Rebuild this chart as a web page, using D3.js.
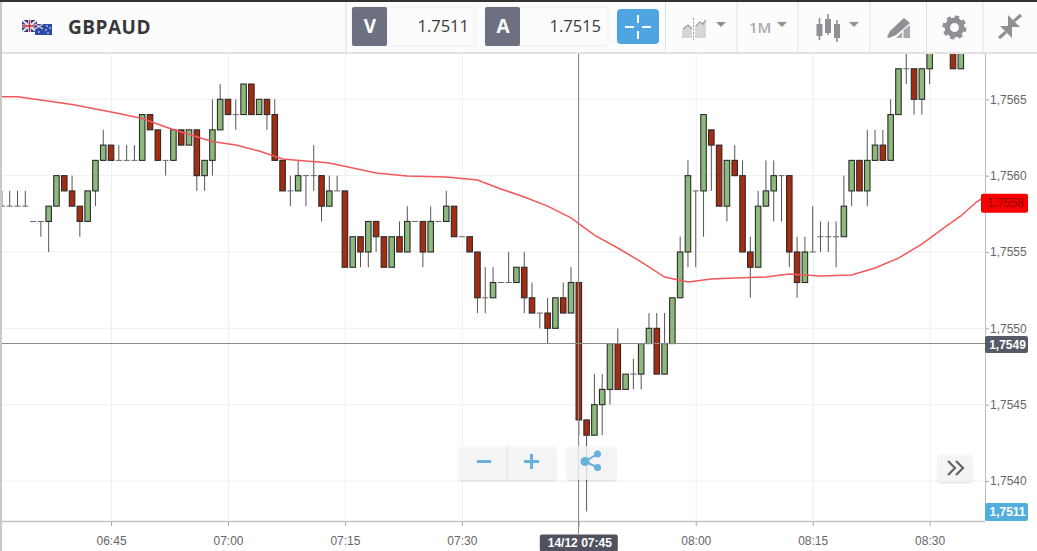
<!DOCTYPE html>
<html>
<head>
<meta charset="utf-8">
<script src="https://cdn.jsdelivr.net/npm/d3@7"></script>
<style>
html, body { margin: 0; padding: 0; background: #fff; overflow: hidden; }
svg { display: block; }
text { font-family: "Liberation Sans", Arial, sans-serif; }
.head { font-family: "Open Sans", sans-serif; }
.axis text { font-size: 12px; fill: #666; }
</style>
</head>
<body>
<svg id="chart" width="1037" height="551"></svg>
<script>
// candles, one per minute, the first one at 06:31
var startMinute = 6 * 60 + 31
var opens = [1.7558,1.7558,1.7558,1.7558,1.7557,1.7557,1.7557,1.7558,1.7560,1.7559,1.7558,1.7557,1.7559,1.7561,1.7562,1.7561,1.7561,1.7561,1.7561,1.7564,1.7563,1.7561,1.7561,1.7563,1.7562,1.7563,1.7560,1.7561,1.7563,
    1.7565,1.7564,1.7564,1.7566,1.7564,1.7565,1.7564,1.7561,1.7559,1.7559,1.7560,1.7560,1.7560,1.7558,1.7559,1.7559,1.7554,1.7556,1.7555,1.7557,1.7556,1.7554,1.7556,1.7555,1.7557,1.7557,1.7555,1.7557,1.7557,1.7558,1.7556,
    1.7556,1.7555,1.7552,1.7552,1.7553,1.7553,1.7553,1.7554,1.7552,1.7551,1.7551,1.7550,1.7552,1.7551,1.7553,1.7544,1.7543,1.7545,1.7546,1.7549,1.7546,1.7547,1.7547,1.7549,1.7550,1.7547,1.7549,1.7552,1.7555,
    1.7559,1.7559,1.7563,1.7562,1.7558,1.7561,1.7560,1.7555,1.7554,1.7558,1.7559,1.7560,1.7560,1.7555,1.7553,1.7555,1.7556,1.7556,1.7556,1.7556,1.7559,1.7561,1.7559,1.7561,1.7562,1.7561,1.7564,1.7567,1.7567,1.7565,1.7567,1.7570,1.7571,1.7569,1.7567]
var highs = [1.7559,1.7559,1.7559,1.7559,1.7557,1.7557,1.7558,1.7560,1.7560,1.7560,1.7558,1.7559,1.7561,1.7563,1.7562,1.7562,1.7562,1.7562,1.7564,1.7564,1.7563,1.7561,1.7563,1.7563,1.7563,1.7563,1.7561,1.7565,1.7566,
    1.7565,1.7565,1.7566,1.7566,1.7565,1.7565,1.7565,1.7561,1.7560,1.7561,1.7560,1.7562,1.7560,1.7560,1.7560,1.7559,1.7556,1.7556,1.7557,1.7557,1.7556,1.7556,1.7557,1.7558,1.7557,1.7557,1.7558,1.7557,1.7559,1.7558,1.7556,
    1.7556,1.7555,1.7554,1.7554,1.7553,1.7555,1.7554,1.7555,1.7553,1.7551,1.7552,1.7552,1.7553,1.7554,1.7553,1.7544,1.7547,1.7547,1.7549,1.7550,1.7547,1.7548,1.7549,1.7551,1.7551,1.7551,1.7552,1.7556,1.7561,
    1.7559,1.7564,1.7563,1.7562,1.7561,1.7562,1.7561,1.7556,1.7559,1.7561,1.7561,1.7560,1.7560,1.7556,1.7556,1.7558,1.7557,1.7557,1.7557,1.7560,1.7561,1.7561,1.7563,1.7563,1.7563,1.7565,1.7567,1.7569,1.7567,1.7567,1.7569,1.7571,1.7572,1.7570,1.7569]
var lows = [1.7558,1.7558,1.7558,1.7558,1.7557,1.7556,1.7555,1.7558,1.7559,1.7558,1.7556,1.7557,1.7558,1.7561,1.7561,1.7561,1.7561,1.7561,1.7561,1.7563,1.7561,1.7560,1.7561,1.7562,1.7562,1.7559,1.7559,1.7560,1.7563,
    1.7564,1.7563,1.7564,1.7564,1.7564,1.7563,1.7561,1.7559,1.7558,1.7559,1.7558,1.7559,1.7557,1.7558,1.7559,1.7554,1.7554,1.7554,1.7554,1.7555,1.7554,1.7554,1.7555,1.7555,1.7557,1.7554,1.7555,1.7557,1.7557,1.7556,1.7556,
    1.7555,1.7551,1.7551,1.7552,1.7553,1.7553,1.7553,1.7551,1.7551,1.7550,1.7549,1.7550,1.7551,1.7551,1.7543,1.7538,1.7543,1.7543,1.7545,1.7546,1.7546,1.7546,1.7546,1.7549,1.7547,1.7547,1.7549,1.7552,1.7554,
    1.7554,1.7556,1.7559,1.7558,1.7557,1.7560,1.7555,1.7552,1.7554,1.7558,1.7557,1.7557,1.7554,1.7552,1.7553,1.7555,1.7555,1.7555,1.7554,1.7556,1.7558,1.7559,1.7558,1.7561,1.7561,1.7561,1.7564,1.7566,1.7564,1.7564,1.7566,1.7569,1.7570,1.7567,1.7567]
var closes = [1.7558,1.7558,1.7558,1.7558,1.7557,1.7557,1.7558,1.7560,1.7559,1.7558,1.7557,1.7559,1.7561,1.7562,1.7561,1.7561,1.7561,1.7561,1.7564,1.7563,1.7561,1.7561,1.7563,1.7562,1.7563,1.7560,1.7561,1.7563,1.7565,
    1.7564,1.7564,1.7566,1.7564,1.7565,1.7564,1.7561,1.7559,1.7559,1.7560,1.7560,1.7560,1.7558,1.7559,1.7559,1.7554,1.7556,1.7555,1.7557,1.7556,1.7554,1.7556,1.7555,1.7557,1.7557,1.7555,1.7557,1.7557,1.7558,1.7556,1.7556,
    1.7555,1.7552,1.7552,1.7553,1.7553,1.7553,1.7554,1.7552,1.7551,1.7551,1.7550,1.7552,1.7551,1.7553,1.7544,1.7543,1.7545,1.7546,1.7549,1.7546,1.7547,1.7547,1.7549,1.7550,1.7547,1.7549,1.7552,1.7555,1.7560,
    1.7559,1.7564,1.7562,1.7558,1.7561,1.7560,1.7555,1.7554,1.7558,1.7559,1.7560,1.7560,1.7555,1.7553,1.7555,1.7555,1.7556,1.7556,1.7556,1.7558,1.7561,1.7559,1.7561,1.7562,1.7561,1.7564,1.7567,1.7567,1.7565,1.7567,1.7569,1.7571,1.7571,1.7567,1.7569]

// red average line
var lineTimes = ['06:30','06:33','06:36','06:40','06:43','06:46','06:49','06:52','06:55','06:58','07:01','07:04','07:07','07:10','07:13','07:16','07:19','07:23','07:28','07:32','07:35','07:38','07:41','07:44','07:47','07:50','07:53','07:56','07:59','08:02','08:05','08:09','08:12','08:16','08:20','08:23','08:26','08:29','08:32','08:34','08:36','08:38']
var lineValues = [1.756517,1.756517,1.756495,1.756466,1.756436,1.756407,1.756374,1.756319,1.756269,1.756224,1.756200,1.756161,1.756109,1.756096,1.756083,1.756050,1.756017,1.755998,1.755991,1.755971,1.755913,1.755860,1.755800,1.755723,1.755611,1.755526,1.755435,1.755336,1.755304,1.755323,1.755330,1.755336,1.755356,1.755343,1.755350,1.755395,1.755460,1.755552,1.755664,1.755736,1.755827,1.755893]

var priceTicks = [1.7540, 1.7545, 1.7550, 1.7555, 1.7560, 1.7565]
var askLabel = '1.7515', bidLabel = '1.7511'
var lastLine = 1.7558, cursorPrice = 1.754901, bottomTag = '1,7511', cursorTime = '07:45', cursorDate = '14/12'

var day = new Date(2017, 11, 14)
function minuteDate(m) { return d3.timeMinute.offset(day, m) }
function parseTime(s) { return minuteDate(+s.slice(0, 2) * 60 + +s.slice(3)) }
function commaPrice(p) { return d3.format('.4f')(p).replace('.', ',') }

var candles = opens.map(function(o, i) {
    return { t: minuteDate(startMinute + i), o: o, h: highs[i], l: lows[i], c: closes[i] }
})

var plotLeft = 2, plotRight = 985, plotTop = 54, plotBottom = 521
var x = d3.scaleTime().domain([parseTime('06:30'), parseTime('08:38')]).range([-5.9, 992])
var y = d3.scaleLinear().domain([1.7540, 1.7565]).range([481, 99.3])

var svg = d3.select('#chart')
svg.append('rect').attr('width', 1037).attr('height', 551).attr('fill', '#fff')

svg.append('clipPath').attr('id', 'plot').append('rect')
    .attr('x', plotLeft).attr('y', plotTop).attr('width', plotRight - plotLeft).attr('height', plotBottom - plotTop)

// grid
var timeTicks = x.ticks(d3.timeMinute.every(15)).filter(function(d) { return x(d) > plotLeft && x(d) < plotRight })
var grid = svg.append('g')
grid.selectAll('line.v').data(timeTicks).enter().append('line')
    .attr('class', 'v')
    .attr('x1', function(d) { return x(d) + .5 })
    .attr('x2', function(d) { return x(d) + .5 })
    .attr('y1', plotTop).attr('y2', plotBottom).attr('stroke', '#efefef')
grid.selectAll('line.h').data(priceTicks).enter().append('line')
    .attr('class', 'h')
    .attr('x1', plotLeft).attr('x2', plotRight)
    .attr('y1', function(d) { return y(d) })
    .attr('y2', function(d) { return y(d) })
    .attr('stroke', '#efefef')

// candles
var plot = svg.append('g').attr('clip-path', 'url(#plot)')
plot.selectAll('line.wick').data(candles).enter().append('line')
    .attr('class', 'wick')
    .attr('x1', function(d) { return x(d.t) })
    .attr('x2', function(d) { return x(d.t) })
    .attr('y1', function(d) { return y(d.h) })
    .attr('y2', function(d) { return y(d.l) })
    .attr('stroke', '#555').attr('stroke-width', 1)
plot.selectAll('line.doji').data(candles.filter(function(d) { return d.o == d.c })).enter().append('line')
    .attr('class', 'doji')
    .attr('x1', function(d) { return x(d.t) - 3 })
    .attr('x2', function(d) { return x(d.t) + 3 })
    .attr('y1', function(d) { return y(d.o) })
    .attr('y2', function(d) { return y(d.o) })
    .attr('stroke', '#666').attr('stroke-width', 1)
plot.selectAll('rect.body').data(candles.filter(function(d) { return d.o != d.c })).enter().append('rect')
    .attr('class', 'body')
    .attr('x', function(d) { return x(d.t) - 2.75 })
    .attr('width', 5.5)
    .attr('y', function(d) { return y(Math.max(d.o, d.c)) })
    .attr('height', function(d) { return Math.abs(y(d.o) - y(d.c)) })
    .attr('fill', function(d) { return d.c > d.o ? '#8db97c' : '#a62c10' })
    .attr('stroke', '#2b2b2b').attr('stroke-width', 1.1)

var avg = d3.line()
    .x(function(d, i) { return x(parseTime(lineTimes[i])) })
    .y(function(d) { return y(d) })
plot.append('path').attr('d', avg(lineValues))
    .attr('fill', 'none').attr('stroke', '#f2575a').attr('stroke-width', 1.5)

// axes
var xAxis = d3.axisBottom(x).tickValues(timeTicks).tickFormat(d3.timeFormat('%H:%M')).tickSize(5).tickPadding(10)
var gx = svg.append('g').attr('class', 'axis').attr('transform', 'translate(0,' + plotBottom + ')').call(xAxis)
gx.select('.domain').remove()
gx.selectAll('line').attr('stroke', '#aaa')
// the cursor tag sits where the 07:45 label would be
gx.selectAll('.tick').filter(function(d) { return +d == +parseTime(cursorTime) }).select('text').remove()

var yAxis = d3.axisRight(y).tickValues(priceTicks).tickFormat(commaPrice).tickSize(4).tickPadding(1)
var gy = svg.append('g').attr('class', 'axis').attr('transform', 'translate(' + plotRight + ',0)').call(yAxis)
gy.select('.domain').remove()
gy.selectAll('line').attr('stroke', '#aaa')

svg.append('line').attr('x1', 0).attr('x2', plotRight).attr('y1', plotBottom + .5).attr('y2', plotBottom + .5)
    .attr('stroke', '#c4c4c4').attr('stroke-width', 1.5)
svg.append('line').attr('x1', plotRight + .5).attr('x2', plotRight + .5).attr('y1', plotTop).attr('y2', plotBottom)
    .attr('stroke', '#bdbdbd').attr('stroke-width', 1)

// crosshair
var cursorX = x(parseTime(cursorTime)), cursorY = y(cursorPrice)
svg.append('line').attr('x1', cursorX).attr('x2', cursorX).attr('y1', plotTop).attr('y2', 534)
    .attr('stroke', '#8a8a8a').attr('shape-rendering', 'crispEdges')
svg.append('line').attr('x1', 0).attr('x2', plotRight).attr('y1', cursorY).attr('y2', cursorY)
    .attr('stroke', '#8a8a8a').attr('shape-rendering', 'crispEdges')

// value tags on the right
function tag(yMid, label, fill, color, weight, x0, w, h) {
    svg.append('rect').attr('x', x0).attr('y', yMid - h / 2).attr('width', w).attr('height', h).attr('rx', 2).attr('fill', fill)
    svg.append('text').attr('x', x0 + w / 2 + 1).attr('y', yMid + 4.3).attr('text-anchor', 'middle')
        .attr('font-size', 12).attr('font-weight', weight).attr('fill', color).text(label)
}
tag(y(lastLine) - 3, commaPrice(lastLine), '#f80000', '#8c0a0a', 'normal', 981, 47, 19)
tag(cursorY + 1, commaPrice(cursorPrice), '#565a67', '#fff', 'bold', 985, 43, 17)
tag(512, bottomTag, '#52afdd', '#fff', 'bold', 985, 43, 18)
tag(543, cursorDate + ' ' + cursorTime, '#50535f', '#fff', 'bold', cursorX - 39, 78, 17)

// floating buttons
function button(x0, y0, w, h) {
    svg.append('rect').attr('x', x0).attr('y', y0).attr('width', w).attr('height', h).attr('rx', 3)
        .attr('fill', '#fafafa').attr('fill-opacity', .78)
        .style('filter', 'drop-shadow(0 1px 1px rgba(0,0,0,.16))')
}
button(459, 446, 97, 34)
button(567, 446, 49, 34)
button(938, 454, 34, 28)
svg.append('line').attr('x1', 507).attr('x2', 507).attr('y1', 446).attr('y2', 480).attr('stroke', '#e2e2e2')
var blue = '#68b1de'
svg.append('path').attr('d', 'M477 461.5H491M524 461.5H539M531.5 454V469').attr('stroke', blue).attr('stroke-width', 3).attr('fill', 'none')
svg.append('path').attr('d', 'M597.5 454L585 461.5L597.5 467.5').attr('stroke', blue).attr('stroke-width', 2).attr('fill', 'none')
svg.selectAll('circle.share').data([[585, 461.5, 4.5], [597.5, 454, 3.5], [597.5, 467.5, 3.5]]).enter().append('circle')
    .attr('class', 'share')
    .attr('cx', function(d) { return d[0] }).attr('cy', function(d) { return d[1] }).attr('r', function(d) { return d[2] }).attr('fill', blue)
svg.append('path').attr('d', 'M948 461L955 468L948 475M956 461L963 468L956 475').attr('stroke', '#666').attr('stroke-width', 2.2).attr('fill', 'none')

// top bar
var bar = svg.append('g')
bar.append('rect').attr('width', 1037).attr('height', 53).attr('fill', '#fcfcfc')
bar.append('rect').attr('width', 1037).attr('height', 2).attr('fill', '#333')
bar.append('line').attr('x1', 0).attr('x2', 1037).attr('y1', 53).attr('y2', 53).attr('stroke', '#c9c9c9')
svg.append('rect').attr('x', 0).attr('y', 2).attr('width', 2).attr('height', 549).attr('fill', '#c8c8cc')
bar.selectAll('line.sep').data([346, 665.5, 737, 798, 870, 926.5, 983]).enter().append('line')
    .attr('class', 'sep')
    .attr('x1', function(d) { return d }).attr('x2', function(d) { return d })
    .attr('y1', 2).attr('y2', 53).attr('stroke', '#e0e0e0')

// flags
bar.append('rect').attr('x', 22).attr('y', 20).attr('width', 15).attr('height', 12).attr('fill', '#2b3f8c')
bar.append('path').attr('d', 'M22 20L37 32M37 20L22 32').attr('stroke', '#eee').attr('stroke-width', 2)
bar.append('path').attr('d', 'M29.5 20V32M22 26H37').attr('stroke', '#eee').attr('stroke-width', 3)
bar.append('path').attr('d', 'M29.5 20V32M22 26H37').attr('stroke', '#c8283a').attr('stroke-width', 1.5)
bar.append('rect').attr('x', 35).attr('y', 24).attr('width', 17).attr('height', 11).attr('fill', '#2a4aa8')
bar.append('path').attr('d', 'M35 24L43 29M43 24L35 29').attr('stroke', '#e8c8d0').attr('stroke-width', 1.4)
bar.selectAll('circle.star').data([[47, 26], [50, 28], [46, 30], [48, 33], [39, 32]]).enter().append('circle')
    .attr('class', 'star')
    .attr('cx', function(d) { return d[0] }).attr('cy', function(d) { return d[1] }).attr('r', .8).attr('fill', '#fff')

bar.append('text').attr('class', 'head').attr('x', 68).attr('y', 34).attr('font-size', 19).attr('font-weight', 700)
    .attr('letter-spacing', .5).attr('fill', '#383838').text('GBPAUD')

function quote(x0, letter, value, endX) {
    bar.append('rect').attr('x', x0).attr('y', 7).attr('width', endX - x0).attr('height', 39).attr('rx', 2)
        .attr('fill', '#fbfbfb').attr('stroke', '#eee')
    bar.append('rect').attr('x', x0).attr('y', 7).attr('width', 35).attr('height', 39).attr('rx', 2).attr('fill', '#6c7080')
    bar.append('text').attr('class', 'head').attr('x', x0 + 18).attr('y', 33).attr('text-anchor', 'middle')
        .attr('font-size', 19).attr('font-weight', 700).attr('fill', '#fff').text(letter)
    bar.append('text').attr('class', 'head').attr('x', endX - 7).attr('y', 32).attr('text-anchor', 'end')
        .attr('font-size', 16.5).attr('fill', '#3a3a3a').text(value)
}
quote(352, 'V', bidLabel, 476)
quote(485, 'A', askLabel, 608)

bar.append('rect').attr('x', 617).attr('y', 9).attr('width', 42).attr('height', 35).attr('rx', 4).attr('fill', '#4fa5e1')
bar.append('path').attr('d', 'M625 27H634M642 27H651M638 15V23M638 31V39').attr('stroke', '#fff').attr('stroke-width', 2)

var iconGrey = '#8f9095', pale = '#d6d6d6'
function arrow(x0) {
    bar.append('path').attr('d', 'M' + x0 + ' 22H' + (x0 + 10) + 'L' + (x0 + 5) + ' 27Z').attr('fill', iconGrey)
}
// chart type icon
bar.append('path').attr('d', 'M682 38V30L688 26L692 30V38ZM695 38V26L706 22V38Z').attr('fill', pale)
bar.append('path').attr('d', 'M683 29L688 25L692 29M696 26L700 22L703 24L706 20').attr('stroke', '#999').attr('stroke-width', 1.3).attr('fill', 'none')
bar.append('line').attr('x1', 693.5).attr('x2', 693.5).attr('y1', 18).attr('y2', 40).attr('stroke', '#999').attr('stroke-dasharray', '2 1.5')
arrow(716)
bar.append('text').attr('class', 'head').attr('x', 749).attr('y', 33).attr('font-size', 15).attr('font-weight', 600).attr('fill', '#a9aaad').text('1M')
arrow(777)
// candle icon
bar.append('path').attr('d', 'M819.5 18V40M828 14V35M837 20V42').attr('stroke', iconGrey).attr('stroke-width', 1.6)
bar.append('path').attr('d', 'M816.5 24h6v12h-6zM825 19h6v14h-6zM834 24h6v14h-6z').attr('fill', iconGrey)
arrow(849)
// drawing icon
bar.append('path').attr('d', 'M887 37L890 31L904 18L910 23L896 35L889 38Z').attr('fill', iconGrey)
bar.append('path').attr('d', 'M896 38L902 32V38ZM903.5 38V30L910 25V38Z').attr('fill', '#a8a9ad')
// gear, teeth as thick dashes round the ring
bar.append('circle').attr('cx', 954.5).attr('cy', 27.5).attr('r', 7.2).attr('fill', 'none').attr('stroke', iconGrey).attr('stroke-width', 5.5)
bar.append('circle').attr('cx', 954.5).attr('cy', 27.5).attr('r', 10.5).attr('fill', 'none').attr('stroke', iconGrey).attr('stroke-width', 3.2)
    .attr('stroke-dasharray', '4.2 4.05')
// shrink arrows
bar.append('path').attr('d', 'M1008 27V15L1020 27ZM1012 26V38L1000 26Z').attr('fill', iconGrey)
bar.append('path').attr('d', 'M1014 21L1021 15M1006 32L999 38').attr('stroke', iconGrey).attr('stroke-width', 3)
</script>
</body>
</html>
